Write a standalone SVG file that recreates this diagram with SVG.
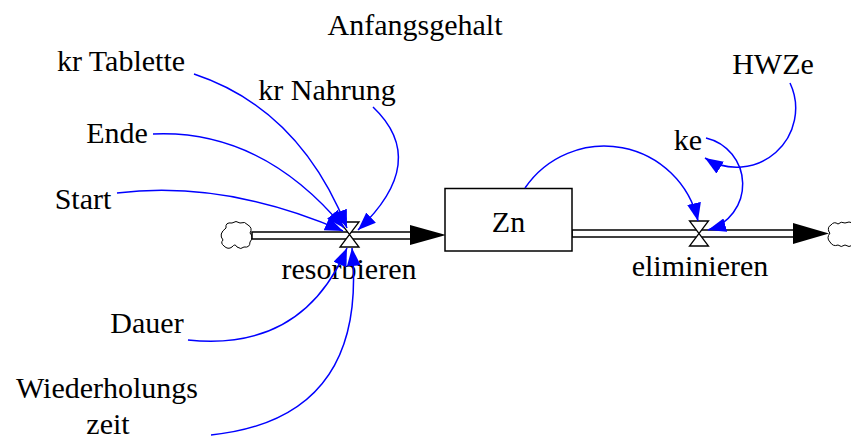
<svg xmlns="http://www.w3.org/2000/svg" width="851" height="439" viewBox="0 0 851 439">
<style>
text{font-family:"Liberation Serif","Times New Roman",Times,"DejaVu Serif",serif;font-size:30px;fill:#000;text-anchor:middle}
.inf{fill:none;stroke:#0000ff;stroke-width:1.5;marker-end:url(#a)}
.pipe{fill:#fff;stroke:#000;stroke-width:1.5}
.valve{fill:#fff;stroke:#000;stroke-width:1.3;stroke-linejoin:miter}
.cloud{fill:#fff;stroke:#000;stroke-width:1}
</style>
<defs>
<marker id="a" markerUnits="userSpaceOnUse" viewBox="0 0 18 14" markerWidth="18" markerHeight="14" refX="18" refY="7" orient="auto">
<path d="M0,0 L18,7 L0,14 Z" fill="#0000ff"/>
</marker>
</defs>
<rect width="851" height="439" fill="#fff"/>
<g id="flows">
<path class="cloud" d="M226,228 q-1,-6 6,-5 q4,-3 8,0 q5,-2 8,2 q5,3 2,8 q4,4 0,9 q0,6 -6,5 q-3,3 -7,0 q-2,-4 -5,0 q-4,3 -8,-1 q-4,-3 -1,-6 q-5,-6 3,-12 Z"/>
<rect class="pipe" x="252" y="232" width="160" height="7"/>
<polygon points="410,225 446,235 410,245" fill="#000"/>
<rect class="pipe" x="572" y="230" width="222" height="7"/>
<polygon points="793,223 829,233.5 793,244" fill="#000"/>
<path class="cloud" d="M829,232 q-2,-5 2,-7 q3,-4 7,-1 q3,-3 7,-1 q4,-2 8,0 L853,245 q-4,3 -8,0 q-4,3 -7,0 q-5,2 -8,-3 q-4,-4 0,-9 Z"/>
<path class="valve" d="M340,222 H359 L340,247 H359 Z"/>
<path class="valve" d="M689.5,221 H708.5 L689.5,246 H708.5 Z"/>
</g>
<g id="Zn"><rect x="445" y="188.5" width="127" height="62.5" fill="#fff" stroke="#000" stroke-width="1.5"/><text x="508.5" y="232">Zn</text></g>
<g id="resorbieren"><text x="349" y="279">resorbieren</text></g>
<g id="eliminieren"><text x="700" y="276">eliminieren</text></g>
<g id="Anfangsgehalt"><text x="415" y="35">Anfangsgehalt</text></g>
<g id="krTablette"><text x="121" y="71">kr Tablette</text></g>
<g id="krNahrung"><text x="327" y="100">kr Nahrung</text></g>
<g id="Ende"><text x="117" y="143">Ende</text></g>
<g id="Start"><text x="83" y="209">Start</text></g>
<g id="Dauer"><text x="147" y="333">Dauer</text></g>
<g id="Wiederholungszeit"><text x="107" y="398">Wiederholungs</text><text x="108" y="434">zeit</text></g>
<g id="HWZe"><text x="773" y="74">HWZe</text></g>
<g id="ke"><text x="688" y="150">ke</text></g>
<g id="connectors">
<path class="inf" d="M194,74 Q299.5,109 347,228"/>
<path class="inf" d="M373,107 Q430.5,161.5 358,230"/>
<path class="inf" d="M153,134 Q261.5,129 344,228"/>
<path class="inf" d="M117,193 Q226,180 343,231"/>
<path class="inf" d="M188,340 Q302.5,352 347,248"/>
<path class="inf" d="M211,435 Q368.5,418.5 352,248"/>
<path class="inf" d="M525,188 A96,96 0 0 1 698,221"/>
<path class="inf" d="M790,83 A59,59 0 0 1 705,158"/>
<path class="inf" d="M706,138 A47.5,47.5 0 0 1 708,230"/>
</g>
</svg>
